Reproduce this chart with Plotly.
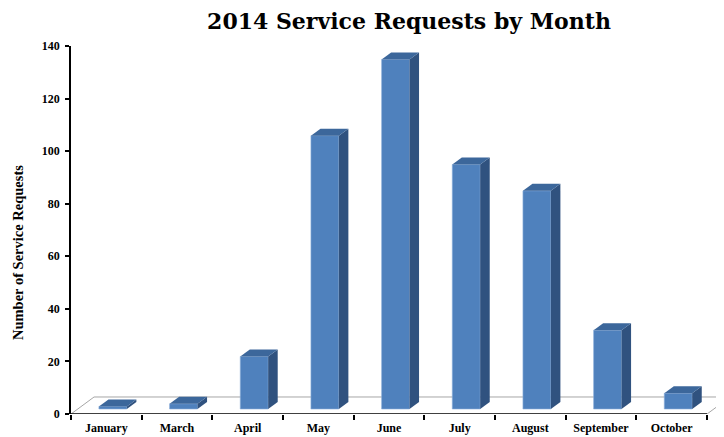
import plotly.graph_objects as go

months = ["January", "March", "April", "May", "June", "July", "August", "September", "October"]
requests = [1, 2, 20, 104, 133, 93, 83, 30, 6]
y_ticks = [0, 20, 40, 60, 80, 100, 120, 140]

# The page body has an 8px margin, so the figure is sized/positioned to compensate.
FIG_W, FIG_H = 716, 429
ML, MT, MB = 63, 38, 23
MR = 0

# 3D look (style constants, in axis units)
BASE = 1.9              # bars sit mid-depth on the floor
DX, DY = 0.135, 2.66    # bar depth projection
FDX, FDY = 0.326, 6.47  # floor depth projection
OFF, W = -0.105, 0.395
X_EXTRA = 0.24

FRONT = "#4F81BD"
SIDE = "#30527F"
TOP = "#3C679B"

n = len(months)
fig = go.Figure()
fig.add_trace(go.Bar(
    x=months, y=requests, base=[BASE] * n,
    offset=OFF, width=W,
    marker=dict(color=FRONT, line=dict(color="#8DB0DC", width=0.6)),
    hoverinfo="skip",
))

shapes = []
shapes.append(dict(
    type="path", xref="x", yref="y", layer="below",
    path=f"M -0.5 0 L {-0.5 + FDX} {FDY} L {n - 0.5 + FDX} {FDY} L {n - 0.5} 0",
    line=dict(color="#A6A6A6", width=1),
))
for i, v in enumerate(requests):
    xl = i + OFF
    xr = xl + W
    yb = BASE
    yt = BASE + v
    shapes.append(dict(
        type="path", xref="x", yref="y", layer="above",
        path=f"M {xr} {yb} L {xr + DX} {yb + DY} L {xr + DX} {yt + DY} L {xr} {yt} Z",
        fillcolor=SIDE, line=dict(width=0),
    ))
    shapes.append(dict(
        type="path", xref="x", yref="y", layer="above",
        path=f"M {xl} {yt} L {xr} {yt} L {xr + DX} {yt + DY} L {xl + DX} {yt + DY} Z",
        fillcolor=TOP, line=dict(width=0),
    ))
shapes.append(dict(
    type="line", xref="x", yref="y", layer="above",
    x0=-0.5, x1=n - 0.5, y0=0, y1=0,
    line=dict(color="black", width=1.5),
))

tick_font = dict(family="Liberation Serif", size=12, color="black", weight="bold")
plot_w = FIG_W - ML - MR
plot_h = FIG_H - MT - MB

fig.update_layout(
    width=FIG_W, height=FIG_H,
    margin=dict(l=ML, r=MR, t=MT, b=MB),
    paper_bgcolor="white", plot_bgcolor="white",
    showlegend=False,
    shapes=shapes,
    title=dict(
        text="2014 Service Requests by Month",
        font=dict(family="DejaVu Serif", size=22, color="black", weight="bold"),
        x=401 / FIG_W, xanchor="center", xref="container",
        y=1 - 13 / FIG_H, yanchor="middle", yref="container",
    ),
    xaxis=dict(
        type="category", range=[-0.5, n - 0.5 + X_EXTRA],
        tickson="boundaries", ticks="outside", ticklen=5, tickwidth=1.5, tickcolor="black",
        showline=False, showgrid=False, zeroline=False,
        tickfont=tick_font, automargin=False, ticklabelstandoff=5,
    ),
    yaxis=dict(
        range=[0, 140], tickvals=y_ticks, ticktext=[str(t) for t in y_ticks],
        ticks="outside", ticklen=4, tickwidth=1.5, tickcolor="black",
        showline=True, linecolor="black", linewidth=1.5,
        showgrid=False, zeroline=False,
        tickfont=tick_font, automargin=False, ticklabelstandoff=3,
    ),
    annotations=[dict(
        text="Number of Service Requests", textangle=-90,
        xref="paper", yref="paper", x=(10 - ML) / plot_w, y=(FIG_H - MB - 245) / plot_h,
        xanchor="center", yanchor="middle", showarrow=False,
        font=dict(family="Liberation Serif", size=14.5, color="black", weight="bold"),
    )],
)

fig.write_html("out.html")
